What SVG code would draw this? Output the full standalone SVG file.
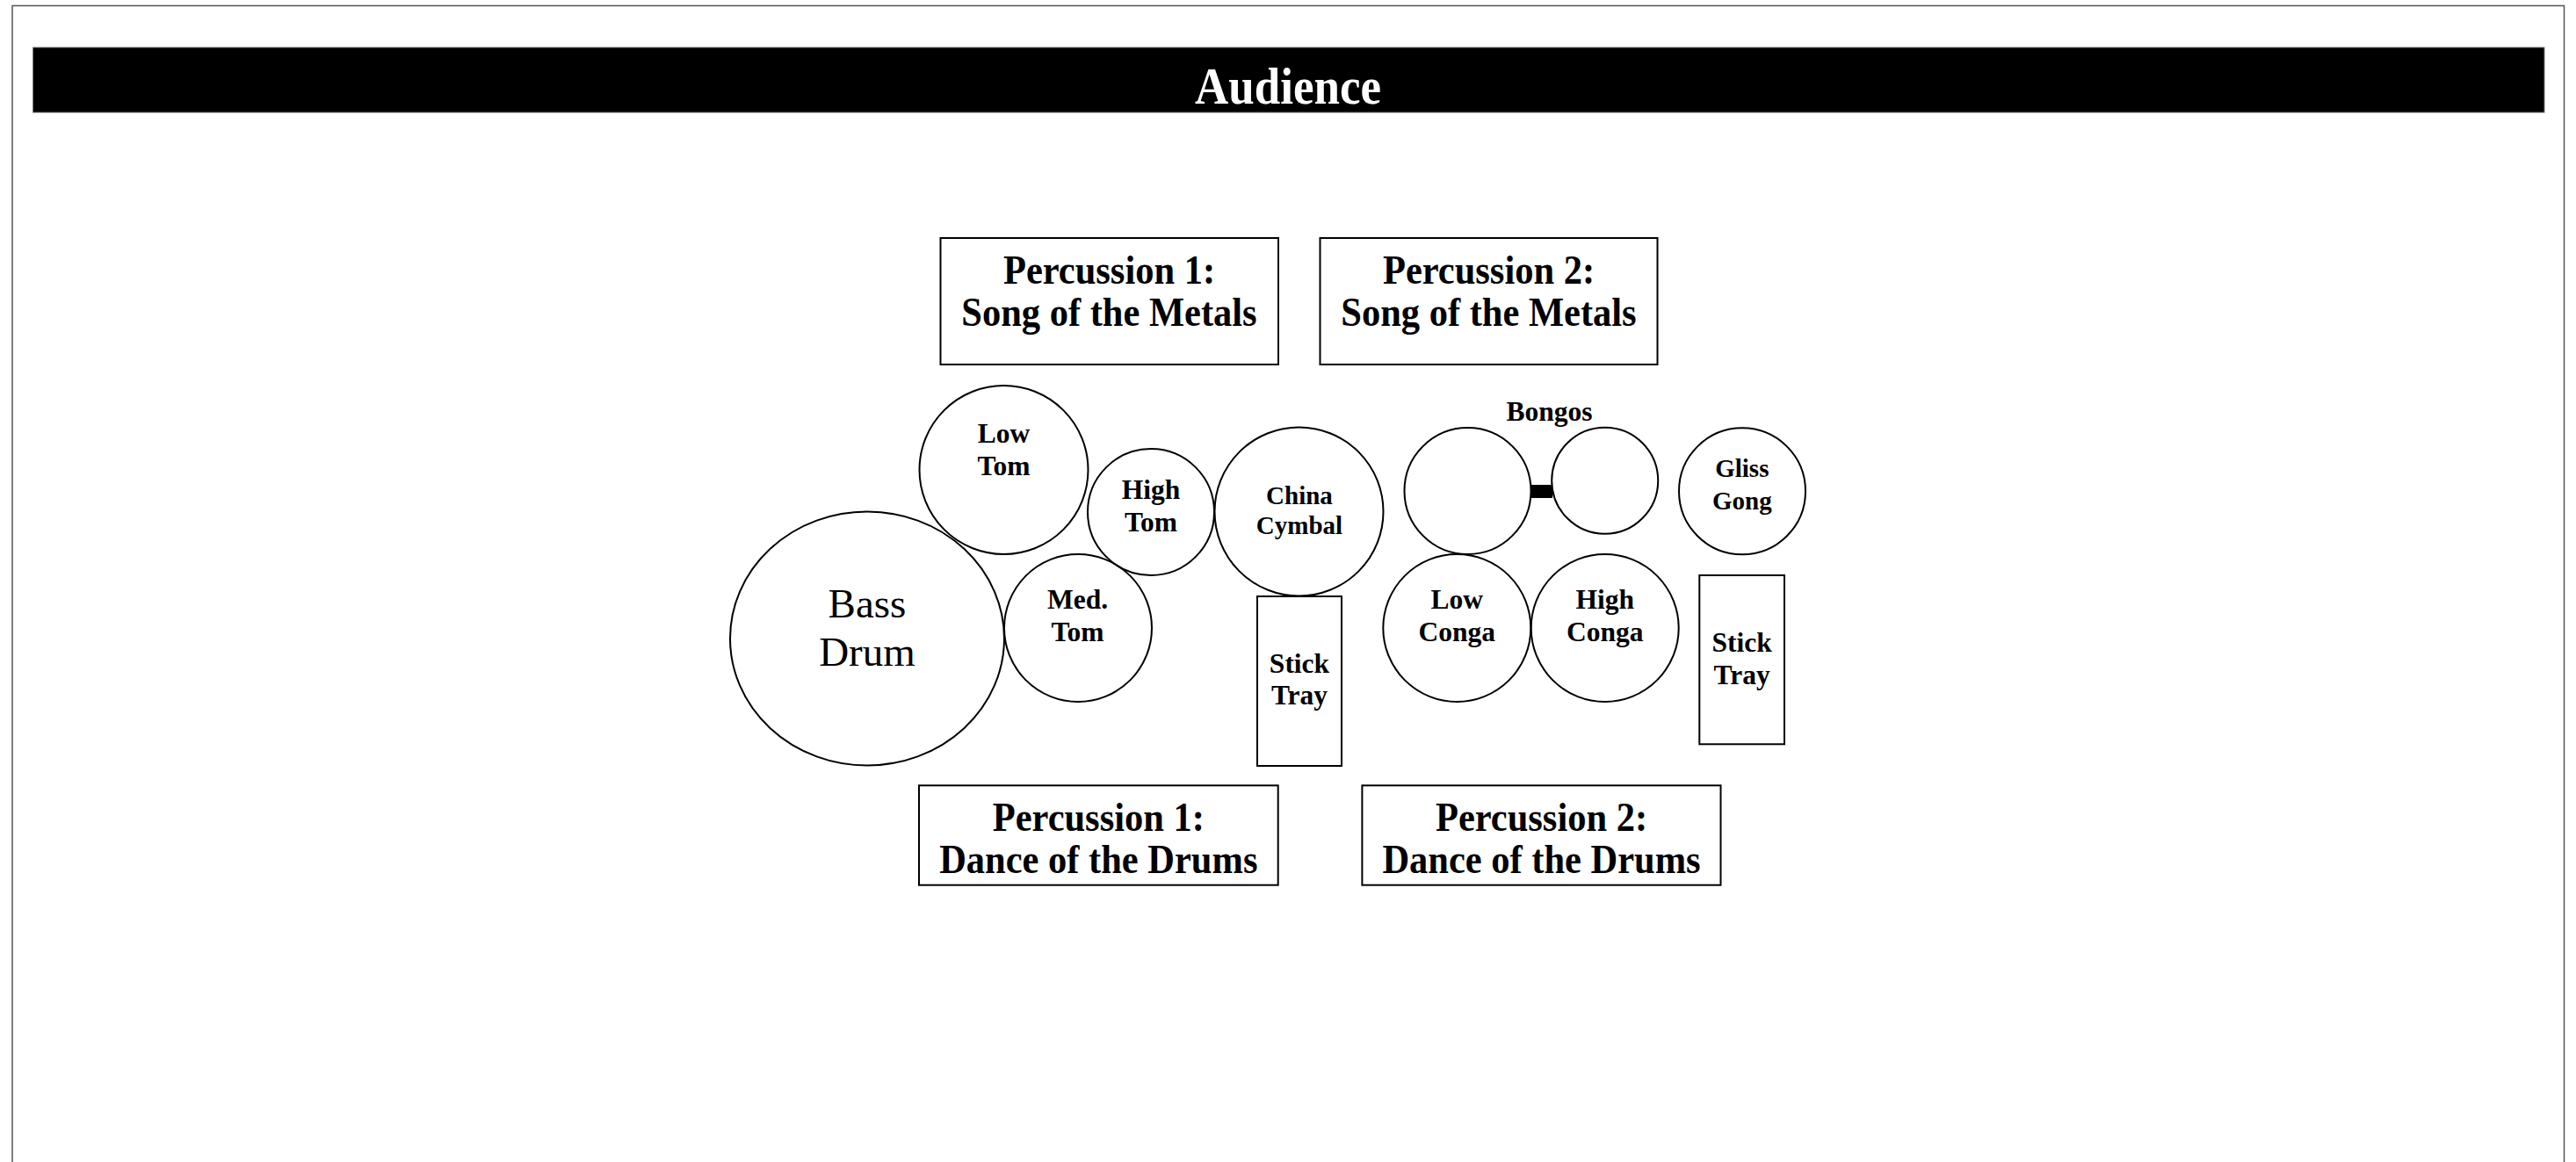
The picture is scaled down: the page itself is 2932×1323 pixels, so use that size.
<svg xmlns="http://www.w3.org/2000/svg" width="2932" height="1323" viewBox="0 0 2932 1323">
  <style>
    .bg { fill: #ffffff; }
    .frame { fill: none; stroke: #555555; stroke-width: 1.5; }
    .band { fill: #000000; stroke: #777777; stroke-width: 1; }
    .shape { fill: none; stroke: #000000; stroke-width: 2; }
    .box { fill: #ffffff; stroke: #000000; stroke-width: 2; }
    .t { font-family: "Liberation Serif", "Times New Roman", serif; font-weight: bold; text-anchor: middle; fill: #000000; }
    .title { font-family: "Liberation Serif", "Times New Roman", serif; font-weight: bold; text-anchor: middle; fill: #ffffff; font-size: 53px; }
    .big { font-size: 42.5px; }
    .mid { font-size: 31.5px; }
    .sm { font-size: 29px; }
    .reg { font-family: "Liberation Serif", "Times New Roman", serif; font-weight: normal; text-anchor: middle; fill: #000000; font-size: 47px; }
  </style>
  <rect class="bg" x="0" y="0" width="2932" height="1323"/>
  <rect class="frame" x="14" y="6.5" width="2904.5" height="1400"/>

  <g id="audience">
    <rect class="band" x="37.5" y="54" width="2858.5" height="74"/>
    <text class="title" transform="translate(1466 118) scale(1 1.12)">Audience</text>
  </g>

  <g id="perc1-metals">
    <rect class="box" x="1070.5" y="271" width="384.5" height="144"/>
    <text class="t big" transform="translate(1262.5 322.5) scale(1 1.1)">Percussion 1:</text>
    <text class="t big" transform="translate(1262.5 371) scale(1 1.1)">Song of the Metals</text>
  </g>
  <g id="perc2-metals">
    <rect class="box" x="1502.5" y="271" width="384" height="144"/>
    <text class="t big" transform="translate(1694.5 322.5) scale(1 1.1)">Percussion 2:</text>
    <text class="t big" transform="translate(1694.5 371) scale(1 1.1)">Song of the Metals</text>
  </g>

  <g id="bass-drum">
    <ellipse class="shape" cx="987" cy="727" rx="156" ry="144.5"/>
    <text class="reg" x="987" y="702.7">Bass</text>
    <text class="reg" x="987" y="758.3">Drum</text>
  </g>
  <g id="low-tom">
    <circle class="shape" cx="1142.5" cy="535" r="96"/>
    <text class="t mid" x="1142.5" y="504">Low</text>
    <text class="t mid" x="1142.5" y="541">Tom</text>
  </g>
  <g id="high-tom">
    <circle class="shape" cx="1310" cy="583" r="72"/>
    <text class="t mid" x="1310" y="568.3">High</text>
    <text class="t mid" x="1310" y="605">Tom</text>
  </g>
  <g id="med-tom">
    <circle class="shape" cx="1227" cy="715" r="84"/>
    <text class="t mid" x="1226.5" y="692.7">Med.</text>
    <text class="t mid" x="1226.5" y="730">Tom</text>
  </g>
  <g id="china-cymbal">
    <circle class="shape" cx="1478.5" cy="582.5" r="96"/>
    <text class="t sm" x="1479" y="574">China</text>
    <text class="t sm" x="1479" y="608.3">Cymbal</text>
  </g>
  <g id="stick-tray-1">
    <rect class="box" x="1431" y="679" width="96" height="193"/>
    <text class="t mid" x="1479" y="765.5">Stick</text>
    <text class="t mid" x="1479" y="802">Tray</text>
  </g>

  <g id="bongos">
    <text class="t mid" x="1763.5" y="479.3">Bongos</text>
    <circle class="shape" cx="1670.5" cy="559" r="72"/>
    <circle class="shape" cx="1826.7" cy="547.3" r="60.5"/>
  </g>
  <g id="gliss-gong">
    <circle class="shape" cx="1983" cy="559.3" r="72"/>
    <text class="t sm" x="1982.8" y="543.3">Gliss</text>
    <text class="t sm" x="1982.8" y="580">Gong</text>
  </g>
  <g id="low-conga">
    <circle class="shape" cx="1658.3" cy="715" r="84"/>
    <text class="t mid" x="1658.3" y="693.3">Low</text>
    <text class="t mid" x="1658.3" y="730">Conga</text>
  </g>
  <g id="high-conga">
    <circle class="shape" cx="1826.7" cy="715" r="84"/>
    <text class="t mid" x="1826.7" y="693.3">High</text>
    <text class="t mid" x="1826.7" y="730">Conga</text>
  </g>
  <g id="stick-tray-2">
    <rect class="box" x="1934.3" y="655" width="96.7" height="192.3"/>
    <text class="t mid" x="1982.7" y="741.7">Stick</text>
    <text class="t mid" x="1982.7" y="779.3">Tray</text>
  </g>

  <g id="perc1-drums">
    <rect class="box" x="1046" y="894.3" width="408.7" height="113.4"/>
    <text class="t big" transform="translate(1250.3 946) scale(1 1.1)">Percussion 1:</text>
    <text class="t big" transform="translate(1250.3 994.3) scale(1 1.1)">Dance of the Drums</text>
  </g>
  <g id="perc2-drums">
    <rect class="box" x="1550.4" y="894.3" width="408.1" height="113.4"/>
    <text class="t big" transform="translate(1754.5 946) scale(1 1.1)">Percussion 2:</text>
    <text class="t big" transform="translate(1754.5 994.3) scale(1 1.1)">Dance of the Drums</text>
  </g>

  <g id="connectors">
    <rect x="1742.5" y="552" width="24.5" height="15" fill="#000000"/>
  </g>
</svg>
